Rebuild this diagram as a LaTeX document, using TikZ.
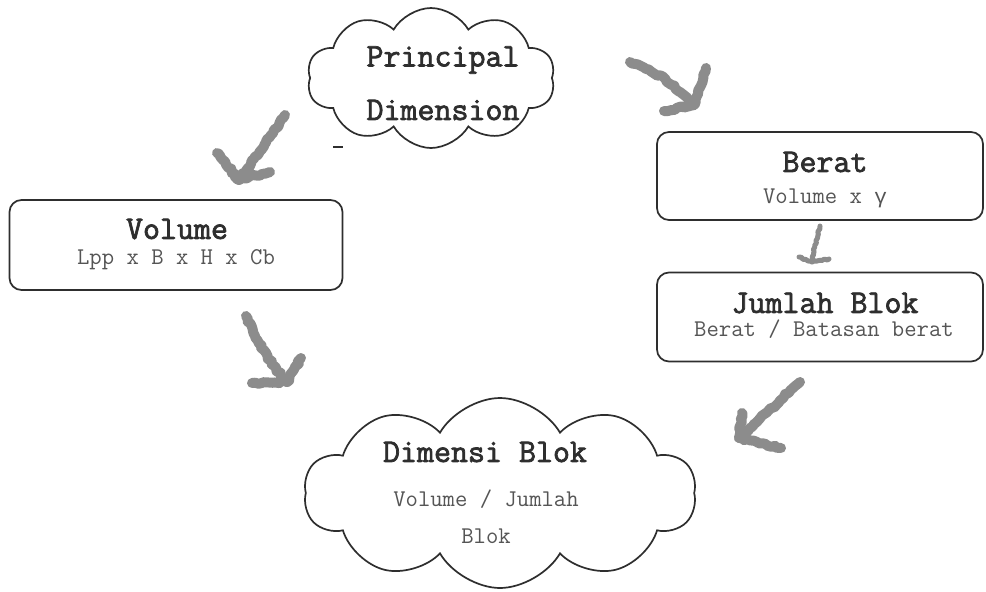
\documentclass[tikz,border=0pt]{standalone}
\usepackage{fontspec}
\newfontfamily\lmmono{Latin Modern Mono}
\newfontfamily\lmmonob[FakeBold=2.2]{Latin Modern Mono}
\newfontfamily\grmono{Liberation Mono}
\usetikzlibrary{shapes.symbols,decorations.pathmorphing}
\definecolor{inkc}{HTML}{2E2E2E}
\definecolor{subc}{HTML}{555555}
\definecolor{crayc}{HTML}{8C8C8C}
\pgfmathsetseed{7}
\tikzset{
  boxnode/.style={draw=inkc, line width=1.7pt, rounded corners=12pt, rectangle, inner sep=0pt},
  cloudnode/.style={draw=inkc, line width=1.7pt, cloud, cloud puffs=10, cloud puff arc=120, cloud ignores aspect, inner sep=0pt},
  titletext/.style={font=\lmmonob\fontsize{33}{34}\selectfont, text=inkc, inner sep=0pt},
  subtext/.style={font=\lmmono\fontsize{24}{25}\selectfont, text=subc, inner sep=0pt},
  crayon/.style={draw=crayc, line width=10pt, line cap=round, line join=round,
     decoration={random steps, segment length=3pt, amplitude=1.2pt}, decorate},
  thincrayon/.style={draw=crayc, line width=5pt, line cap=round, line join=round,
     decoration={random steps, segment length=2pt, amplitude=0.8pt}, decorate}
}
\begin{document}
\begin{tikzpicture}[x=1pt,y=-1pt]
\useasboundingbox[fill=white] (0,0) rectangle (986,592);
% clouds
\node[cloudnode, minimum width=248pt, minimum height=140pt] (pd) at (431,78) {};
\node[titletext] (pdt1) at (443,60) {Principal};
\node[titletext] (pdt2) at (443,110) {Dimension};
\draw[inkc, line width=1.2pt] (333,147) -- (343,147);
\node[cloudnode, minimum width=392pt, minimum height=190pt] (db) at (500,493) {};
\node[titletext] (dbt) at (485,452) {Dimensi Blok};
\node[subtext] (dbs1) at (486,499) {Volume / Jumlah};
\node[subtext] (dbs2) at (486,536) {Blok};
% boxes
\node[boxnode, minimum width=333pt, minimum height=90pt] (vol) at (176,245) {};
\node[titletext] (volt) at (177,229) {Volume};
\node[subtext] (vols) at (176,260) {Lpp x B x H x Cb};
\node[boxnode, minimum width=326pt, minimum height=88pt] (ber) at (820,176) {};
\node[titletext] (bert) at (825,162) {Berat};
\node[subtext] (bers) at (825,198) {Volume x {\grmono\fontsize{21}{22}\selectfont γ}};
\node[boxnode, minimum width=326pt, minimum height=89pt] (jb) at (820,317) {};
\node[titletext] (jbt) at (825,303) {Jumlah Blok};
\node[subtext] (jbs) at (824,329) {Berat / Batasan berat};
% crayon arrows
\coordinate (a1t) at (285,115); \coordinate (a1h) at (239,180);
\coordinate (a1l) at (217,153); \coordinate (a1r) at (270,172);
\draw[crayon] (a1t) -- (a1h);
\draw[crayon] (a1l) -- (a1h) -- (a1r);
\coordinate (a2t) at (630,62); \coordinate (a2h) at (694,105);
\coordinate (a2u) at (706,68); \coordinate (a2l) at (664,111);
\draw[crayon] (a2t) .. controls (650,68) and (670,80) .. (a2h);
\draw[crayon] (a2u) -- (a2h) -- (a2l);
\coordinate (a3t) at (820,226); \coordinate (a3h) at (812,262);
\coordinate (a3l) at (799,257); \coordinate (a3r) at (829,259);
\draw[thincrayon] (a3t) .. controls (816,240) and (814,250) .. (a3h);
\draw[thincrayon] (a3l) -- (a3h) -- (a3r);
\coordinate (a4t) at (246,316); \coordinate (a4h) at (287,382);
\coordinate (a4l) at (252,383); \coordinate (a4r) at (301,358);
\draw[crayon] (a4t) .. controls (258,345) and (272,365) .. (a4h);
\draw[crayon] (a4l) -- (a4h) -- (a4r);
\coordinate (a5t) at (800,382); \coordinate (a5h) at (739,438);
\coordinate (a5u) at (742,413); \coordinate (a5r) at (781,448);
\draw[crayon] (a5t) -- (a5h);
\draw[crayon] (a5u) -- (a5h) -- (a5r);
\end{tikzpicture}
\end{document}
